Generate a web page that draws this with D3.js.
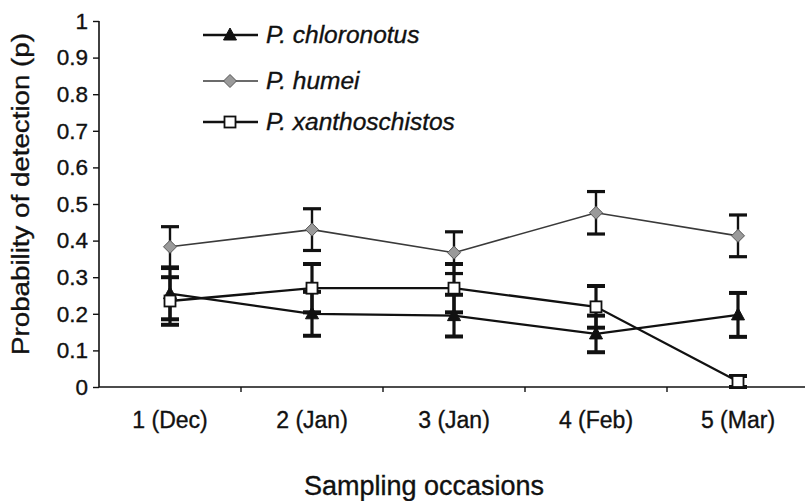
<!DOCTYPE html>
<html>
<head>
<meta charset="utf-8">
<script src="https://cdn.jsdelivr.net/npm/d3@7"></script>
<style>
  html, body { margin: 0; padding: 0; background: #fff; }
  svg { display: block; font-family: Arial, "Liberation Sans", sans-serif; }
  svg text { stroke: #111; stroke-width: 0.35px; }
</style>
</head>
<body>
<svg id="chart" width="805" height="501"></svg>
<script>
// Sampling occasions
const categories = ["1 (Dec)", "2 (Jan)", "3 (Jan)", "4 (Feb)", "5 (Mar)"];

// Probability of detection per species, with half-width of the error bars
const chloronotus    = [0.255, 0.200, 0.195, 0.145, 0.197];
const chloronotusErr = [0.070, 0.060, 0.057, 0.050, 0.060];
const humei          = [0.383, 0.430, 0.367, 0.476, 0.413];
const humeiErr       = [0.055, 0.057, 0.057, 0.058, 0.057];
const xantho         = [0.235, 0.270, 0.270, 0.219, 0.015];
const xanthoErr      = [0.065, 0.066, 0.066, 0.057, 0.015];

const yTicks = [0, 0.1, 0.2, 0.3, 0.4, 0.5, 0.6, 0.7, 0.8, 0.9, 1];

const seriesNames = ["P. chloronotus", "P. humei", "P. xanthoschistos"];

const series = [
  { name: seriesNames[0], values: chloronotus, errs: chloronotusErr, marker: "triangle" },
  { name: seriesNames[1], values: humei,       errs: humeiErr,       marker: "diamond" },
  { name: seriesNames[2], values: xantho,      errs: xanthoErr,      marker: "square" }
];

const svg = d3.select("#chart");

const plotLeft = 99, plotRight = 809, plotTop = 21, plotBottom = 387;

const x = d3.scaleBand().domain(categories).range([plotLeft, plotRight]).padding(0);
const y = d3.scaleLinear().domain([0, 1]).range([plotBottom, plotTop]);
const cx = c => x(c) + x.bandwidth() / 2;

// Axes
const yAxis = svg.append("g")
  .attr("transform", `translate(${plotLeft},0)`)
  .call(d3.axisLeft(y).tickValues(yTicks).tickSize(6).tickPadding(5)
        .tickFormat(d => d === 0 || d === 1 ? String(d) : d3.format(".1f")(d)));
yAxis.select(".domain").attr("stroke", "#111").attr("stroke-width", 1.6).attr("d", `M0,${plotTop}V${plotBottom}`);
yAxis.selectAll(".tick line").attr("stroke", "#111").attr("stroke-width", 1.4);
yAxis.selectAll(".tick text")
  .attr("fill", "#111").attr("font-size", 22.5).attr("font-family", "Arial, 'Liberation Sans', sans-serif");

const xAxisG = svg.append("g").attr("transform", `translate(0,${plotBottom})`);
xAxisG.append("line")
  .attr("x1", plotLeft).attr("x2", 805).attr("y1", 0).attr("y2", 0)
  .attr("stroke", "#111").attr("stroke-width", 1.6);
// tick marks between occasions
xAxisG.selectAll("line.tk")
  .data(categories.slice(1))
  .join("line")
  .attr("class", "tk")
  .attr("x1", d => x(d)).attr("x2", d => x(d))
  .attr("y1", 0).attr("y2", 5)
  .attr("stroke", "#111").attr("stroke-width", 1.4);
xAxisG.selectAll("text.lbl")
  .data(categories)
  .join("text")
  .attr("class", "lbl")
  .attr("x", d => cx(d))
  .attr("y", 41)
  .attr("text-anchor", "middle")
  .attr("font-size", 23)
  .attr("fill", "#111")
  .text(d => d);

// Axis titles
svg.append("text")
  .attr("transform", "translate(29,194) rotate(-90)")
  .attr("text-anchor", "middle")
  .attr("font-size", 23)
  .attr("textLength", 322)
  .attr("lengthAdjust", "spacingAndGlyphs")
  .attr("fill", "#111")
  .text("Probability of detection (p)");

svg.append("text")
  .attr("x", 424).attr("y", 495)
  .attr("text-anchor", "middle")
  .attr("font-size", 27)
  .attr("fill", "#111")
  .text("Sampling occasions");

// Marker drawing
function drawMarker(g, type, px, py) {
  if (type === "triangle") {
    g.append("path")
      .attr("d", `M${px},${py - 7}L${px + 6.5},${py + 5}L${px - 6.5},${py + 5}Z`)
      .attr("fill", "#111").attr("stroke", "#111").attr("stroke-width", 1);
  } else if (type === "diamond") {
    g.append("path")
      .attr("d", `M${px},${py - 6.5}L${px + 6.5},${py}L${px},${py + 6.5}L${px - 6.5},${py}Z`)
      .attr("fill", "#9a9a9a").attr("stroke", "#555").attr("stroke-width", 1);
  } else {
    g.append("rect")
      .attr("x", px - 5.5).attr("y", py - 5.5).attr("width", 11).attr("height", 11)
      .attr("fill", "#fff").attr("stroke", "#111").attr("stroke-width", 1.8);
  }
}

const line = d3.line().x(d => cx(d.c)).y(d => y(d.v));
const plot = svg.append("g");

// Lines
series.forEach(s => {
  const pts = categories.map((c, i) => ({ c, v: s.values[i] }));
  plot.append("path")
    .datum(pts)
    .attr("d", line)
    .attr("fill", "none")
    .attr("stroke", s.marker === "diamond" ? "#3a3a3a" : "#111")
    .attr("stroke-width", s.marker === "diamond" ? 1.6 : 2.3);
});

// Error bars
series.forEach(s => {
  categories.forEach((c, i) => {
    const px = cx(c);
    const lo = Math.max(0, s.values[i] - s.errs[i]);
    const hi = s.values[i] + s.errs[i];
    const w = s.marker === "diamond" ? 2.4 : 3.2;
    plot.append("line")
      .attr("x1", px).attr("x2", px).attr("y1", y(lo)).attr("y2", y(hi))
      .attr("stroke", "#111").attr("stroke-width", w);
    [lo, hi].forEach(v => {
      plot.append("line")
        .attr("x1", px - 9).attr("x2", px + 9).attr("y1", y(v)).attr("y2", y(v))
        .attr("stroke", "#111").attr("stroke-width", w + 0.8);
    });
  });
});

// Markers
series.forEach(s => {
  categories.forEach((c, i) => drawMarker(plot, s.marker, cx(c), y(s.values[i])));
});

// Legend
const legendRows = [35, 81, 122];
const legend = svg.append("g");
series.forEach((s, i) => {
  const ly = legendRows[i];
  legend.append("line")
    .attr("x1", 203).attr("x2", 258).attr("y1", ly).attr("y2", ly)
    .attr("stroke", s.marker === "diamond" ? "#3a3a3a" : "#111")
    .attr("stroke-width", s.marker === "diamond" ? 1.6 : 2.3);
  drawMarker(legend, s.marker, 230, ly);
  legend.append("text")
    .attr("x", 266).attr("y", ly + 8)
    .attr("font-size", 24.5)
    .attr("font-style", "italic")
    .attr("fill", "#111")
    .text(s.name);
});
</script>
</body>
</html>
